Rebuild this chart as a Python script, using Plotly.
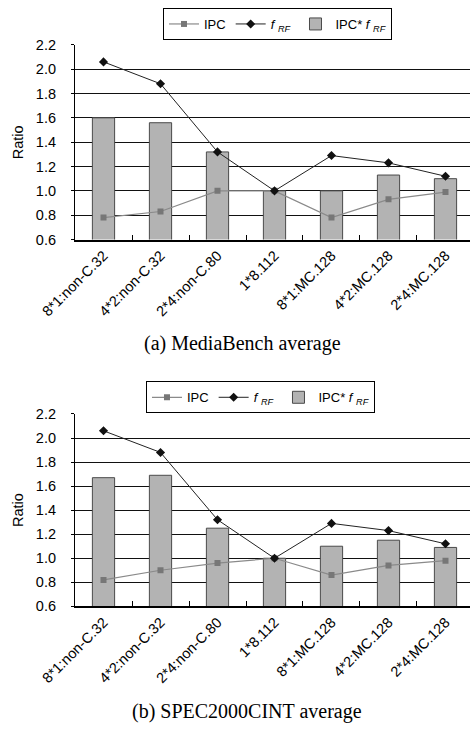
import plotly.graph_objects as go

# Register-file configurations compared in both panels
configs = ["8*1:non-C.32", "4*2:non-C.32", "2*4:non-C.80", "1*8.112",
           "8*1:MC.128", "4*2:MC.128", "2*4:MC.128"]

# (a) MediaBench average
media_ipc = [0.78, 0.83, 1.00, 1.00, 0.78, 0.93, 0.99]
media_frf = [2.06, 1.88, 1.32, 1.00, 1.29, 1.23, 1.12]
media_prod = [1.60, 1.56, 1.32, 1.00, 1.00, 1.13, 1.10]

# (b) SPEC2000CINT average
spec_ipc = [0.82, 0.90, 0.96, 1.00, 0.86, 0.94, 0.98]
spec_frf = [2.06, 1.88, 1.32, 1.00, 1.29, 1.23, 1.12]
spec_prod = [1.67, 1.69, 1.25, 1.00, 1.10, 1.15, 1.09]

y_ticks = [0.6, 0.8, 1.0, 1.2, 1.4, 1.6, 1.8, 2.0, 2.2]

SANS = "Liberation Sans, Arial, sans-serif"
SERIF = "Liberation Serif, Times New Roman, serif"
FRF = "<i>f</i> <sub><i>RF</i></sub>"

fig = go.Figure()

panels = [
    ("x", "y", "legend", media_ipc, media_frf, media_prod),
    ("x2", "y2", "legend2", spec_ipc, spec_frf, spec_prod),
]
for xa, ya, lg, ipc, frf, prod in panels:
    fig.add_trace(go.Scatter(
        x=configs, y=ipc, name="IPC", mode="lines+markers",
        line=dict(color="#8a8a8a", width=1.2),
        marker=dict(symbol="square", size=6, color="#777777"),
        xaxis=xa, yaxis=ya, legend=lg))
    fig.add_trace(go.Scatter(
        x=configs, y=frf, name=FRF, mode="lines+markers",
        line=dict(color="#222222", width=1),
        marker=dict(symbol="diamond", size=7, color="#111111"),
        xaxis=xa, yaxis=ya, legend=lg))
    fig.add_trace(go.Bar(
        x=configs, y=prod, name="IPC* " + FRF, base=0,
        marker=dict(color="#b3b3b3", line=dict(color="#4a4a4a", width=1)),
        xaxis=xa, yaxis=ya, legend=lg))

xaxis_common = dict(
    type="category", range=[-0.5, 6.43], tickangle=-45,
    tickfont=dict(family=SANS, size=14.5, color="black"),
    showline=True, linecolor="black", linewidth=2,
    ticks="inside", tickson="boundaries", ticklen=5, tickcolor="black",
    showgrid=False, zeroline=False, domain=[0, 1])
yaxis_common = dict(
    range=[0.6, 2.2], tickvals=y_ticks, tickformat=".1f",
    tickfont=dict(family=SANS, size=14.5, color="black"),
    showline=True, linecolor="black", linewidth=1.2,
    ticks="outside", ticklen=3, tickcolor="black", ticklabelstandoff=12,
    showgrid=True, gridcolor="#111111", gridwidth=1, zeroline=False)

legend_common = dict(
    orientation="h", xanchor="left", yanchor="top",
    bordercolor="black", borderwidth=1, bgcolor="white",
    font=dict(family=SANS, size=13, color="black"),
    itemwidth=30, traceorder="normal", tracegroupgap=0)

fig.update_layout(
    width=470, height=733,
    margin=dict(l=75, r=0, t=0, b=0),
    paper_bgcolor="white", plot_bgcolor="white",
    bargap=0.61, showlegend=True,
    xaxis=dict(xaxis_common, anchor="y"),
    xaxis2=dict(xaxis_common, anchor="y2"),
    yaxis=dict(yaxis_common, domain=[0.6771, 0.9486], anchor="x"),
    yaxis2=dict(yaxis_common, domain=[0.1655, 0.4338], anchor="x2"),
    legend=dict(legend_common, x=0.2228, y=1.0),
    legend2=dict(legend_common, x=0.1797, y=0.4793),
    annotations=[
        dict(text="Ratio", textangle=-90, xref="paper", yref="paper",
             x=-0.144, y=0.813, xanchor="center", yanchor="middle",
             showarrow=False,
             font=dict(family=SANS, size=14.5, color="black")),
        dict(text="Ratio", textangle=-90, xref="paper", yref="paper",
             x=-0.144, y=0.300, xanchor="center", yanchor="middle",
             showarrow=False,
             font=dict(family=SANS, size=14.5, color="black")),
        dict(text="(a) MediaBench average", xref="paper", yref="paper",
             x=0.425, y=0.532, xanchor="center", yanchor="middle",
             showarrow=False,
             font=dict(family=SERIF, size=20, color="black")),
        dict(text="(b) SPEC2000CINT average", xref="paper", yref="paper",
             x=0.435, y=0.019, xanchor="center", yanchor="middle",
             showarrow=False,
             font=dict(family=SERIF, size=20, color="black")),
    ],
)

fig.write_html("out.html")
